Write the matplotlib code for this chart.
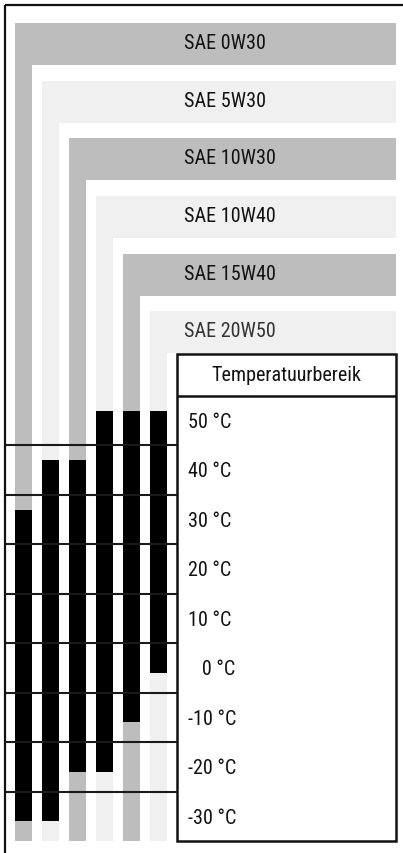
import numpy as np
import matplotlib.pyplot as plt
from matplotlib.patches import Rectangle

# Viscositeitsklassen en het temperatuurbereik waarin ze bruikbaar zijn
grades = ["SAE 0W30", "SAE 5W30", "SAE 10W30", "SAE 10W40", "SAE 15W40", "SAE 20W50"]
t_max = [32, 42, 42, 52, 52, 52]
t_min = [-31, -31, -21, -21, -11, -1]
temps = [50, 40, 30, 20, 10, 0, -10, -20, -30]
temp_labels = ["50 °C", "40 °C", "30 °C", "20 °C", "10 °C", "   0 °C", "-10 °C", "-20 °C", "-30 °C"]

shades = ["#bdbdbd", "#f0f0f0"] * 3
font = ["Roboto Condensed", "Liberation Sans Narrow", "Roboto", "DejaVu Sans"]
plt.rcParams["font.family"] = font
fs = 14.5

fig = plt.figure(figsize=(4.03, 8.54), dpi=100)
ax = fig.add_axes([0, 0, 1, 1])
ax.set_xlim(-0.870, 14.056)
ax.set_ylim(-37.43, 135.3)
ax.axis("off")

x = np.arange(len(grades))
col_w = 0.63
right = 13.8
box_l = 5.685
t_bot = min(temps) - 5
t_head = max(temps) + 5
box_top = 63.5
band_top0, band_step, band_h = 130.4, 11.65, 8.5
band_tops = band_top0 - band_step * x

# L-vormige banden: horizontale balk met naam + kolom naar beneden
for i, (g, c, top) in enumerate(zip(grades, shades, band_tops)):
    ax.add_patch(Rectangle((i - col_w / 2, top - band_h), right - (i - col_w / 2), band_h,
                           facecolor=c, edgecolor="none", zorder=1))
    ax.text(5.94, top - 5.06, g, fontsize=fs, color="#111111" if i < 5 else "#333333",
            ha="left", va="baseline", zorder=4)
ax.bar(x, band_tops - t_bot, bottom=t_bot, width=col_w, color=shades, zorder=1)

# zwarte balken: temperatuurbereik per olie
ax.bar(x, np.subtract(t_max, t_min), bottom=t_min, width=col_w, color="black", zorder=3)

# rasterlijnen tussen de temperaturen
ax.hlines(np.array(temps[:-1]) - 5, -0.70, box_l, color="#1a1a1a", lw=1.5, zorder=4)

# tabel rechts
ax.add_patch(Rectangle((box_l, t_bot), right - box_l, box_top - t_bot,
                       facecolor="white", edgecolor="#111111", lw=1.8, zorder=2))
ax.hlines(t_head, box_l, right, color="#111111", lw=1.8, zorder=4)
ax.text((box_l + right) / 2, t_head + 3.3, "Temperatuurbereik", fontsize=fs,
        ha="center", va="baseline", color="#111111", zorder=5)
for t, lab in zip(temps, temp_labels):
    ax.text(6.09, t - 1.27, lab, fontsize=fs, ha="left", va="baseline",
            color="#111111", zorder=5)

# kader links en boven
ax.vlines(-0.70, -37.43, 134.1, color="#111111", lw=1.6, zorder=5)
ax.hlines(134.1, -0.70, 14.056, color="#111111", lw=1.6, zorder=5)

fig.savefig("out.png", dpi=100)
